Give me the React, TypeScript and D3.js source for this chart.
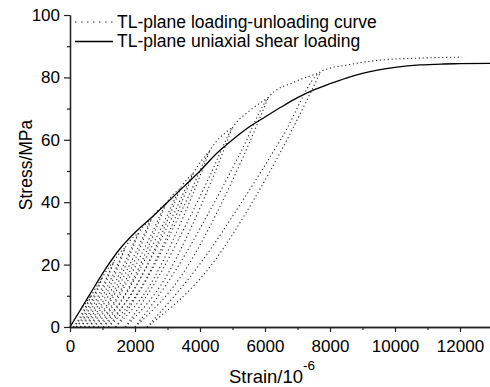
import React, { useEffect, useRef } from "react";
import * as d3 from "d3";

type Pt = [number, number]; // [strain (1e-6), stress (MPa)]

// TL-plane uniaxial shear loading
const shearLoading: Pt[] = [
  [0, 0], [600, 10.3], [1170, 19.8], [1500, 24.6], [2000, 30.3], [2500, 35],
  [3000, 40], [3500, 45], [4000, 50], [4500, 55.5], [5000, 60], [5500, 64],
  [6000, 67.3], [6500, 70.5], [7000, 73.5], [7500, 76], [8000, 78],
  [8500, 79.8], [9000, 81.3], [9500, 82.4], [10000, 83.2], [10770, 84],
  [11500, 84.3], [12000, 84.4], [13000, 84.5],
];

// TL-plane loading-unloading curve: first loading, then reload / unload branches
const firstLoading: Pt[] = [[0, 0], [200, 3.5], [400, 6.5], [650, 10]];

const reloadBranches: Pt[][] = [
  [[100, 0], [269, 2.5], [405, 5], [531, 7.5], [680, 10.5], [1000, 16]],
  [[200, 0], [446, 4], [644, 8], [826, 12], [1030, 16.5], [1350, 21]],
  [[320, 0], [637, 5.25], [892, 10.5], [1126, 15.75], [1380, 21.5], [1700, 25.5]],
  [[450, 0], [835, 6.4], [1144, 12.75], [1429, 19.1], [1730, 26], [2100, 30]],
  [[580, 0], [1048, 7.5], [1424, 15], [1770, 22.5], [2130, 30.5], [2500, 34.5]],
  [[720, 0], [1268, 8.6], [1708, 17.25], [2114, 25.9], [2530, 35], [2950, 39.5]],
  [[870, 0], [1511, 9.9], [2024, 19.75], [2499, 29.6], [2980, 40], [3400, 44.5]],
  [[1020, 0], [1753, 11.1], [2341, 22.25], [2884, 33.4], [3430, 45], [3800, 49.5]],
  [[1180, 0], [1987, 12.4], [2634, 24.75], [3231, 37.1], [3830, 50], [4300, 56.5]],
  [[1400, 0], [2293, 14.1], [3010, 28.25], [3671, 42.4], [4330, 57], [5000, 64]],
  [[1700, 0], [2716, 16], [3532, 32], [4284, 48], [5040, 64.5], [5550, 69.5], [6100, 73.5]],
  [[2000, 0], [3263, 18.4], [4276, 36.75], [5210, 55.1], [6140, 74], [6900, 78.5], [7700, 81.5]],
  [[2370, 0], [4012, 20.4], [5328, 40.75], [6543, 61.1], [7740, 82], [8600, 84.1],
    [9500, 85.5], [10800, 86.2], [12060, 86.5]],
];

const unloadBranches: Pt[][] = [
  [[100, 0], [308, 2.5], [439, 5], [550, 7.5], [650, 10]],
  [[200, 0], [503, 4], [693, 8], [854, 12], [1000, 16]],
  [[320, 0], [710, 5.25], [954, 10.5], [1163, 15.75], [1350, 21]],
  [[450, 0], [924, 6.4], [1220, 12.75], [1473, 19.1], [1700, 25.5]],
  [[580, 0], [1156, 7.5], [1516, 15], [1823, 22.5], [2100, 30]],
  [[720, 0], [1395, 8.6], [1816, 17.25], [2176, 25.9], [2500, 34.5]],
  [[870, 0], [1658, 9.9], [2151, 19.75], [2571, 29.6], [2950, 39.5]],
  [[1020, 0], [1922, 11.1], [2486, 22.25], [2967, 33.4], [3400, 44.5]],
  [[1180, 0], [2173, 12.4], [2794, 24.75], [3323, 37.1], [3800, 49.5]],
  [[1400, 0], [2499, 14.1], [3186, 28.25], [3772, 42.4], [4300, 56.5]],
  [[1700, 0], [2951, 16], [3733, 32], [4399, 48], [5000, 64]],
  [[2000, 0], [3554, 18.4], [4526, 36.75], [5354, 55.1], [6100, 73.5]],
  [[2370, 0], [4390, 20.4], [5653, 40.75], [6730, 61.1], [7700, 81.5]],
];

const xTicks = [0, 2000, 4000, 6000, 8000, 10000, 12000];
const xMinorTicks = [1000, 3000, 5000, 7000, 9000, 11000];
const yTicks = [0, 20, 40, 60, 80, 100];
const yMinorTicks = [10, 30, 50, 70, 90];

const legendLabels = [
  "TL-plane loading-unloading curve",
  "TL-plane uniaxial shear loading",
];

const FONT = "'Liberation Sans', Arial, sans-serif";
const DOTS = "1.2,2.7";

const App: React.FC = () => {
  const svgRef = useRef<SVGSVGElement>(null);
  const width = 490;
  const height = 387;

  useEffect(() => {
    if (!svgRef.current) return;
    d3.select(svgRef.current).selectAll("*").remove();
    const svg = d3.select(svgRef.current);

    const x = d3.scaleLinear().domain([0, 13000]).range([70, 492.5]);
    const y = d3.scaleLinear().domain([0, 100]).range([327, 15]);

    const line = d3
      .line<Pt>()
      .x((d) => x(d[0]))
      .y((d) => y(d[1]))
      .curve(d3.curveMonotoneX);

    // dotted loading-unloading curve
    const dotted = svg.append("g");
    [firstLoading, ...reloadBranches, ...unloadBranches].forEach((b) => {
      dotted
        .append("path")
        .attr("d", line(b))
        .attr("fill", "none")
        .attr("stroke", "#2a2a2a")
        .attr("stroke-width", 1.1)
        .attr("stroke-dasharray", DOTS);
    });

    // solid uniaxial curve
    svg
      .append("path")
      .attr("d", line(shearLoading))
      .attr("fill", "none")
      .attr("stroke", "#000")
      .attr("stroke-width", 1.3);

    // axes
    const styleAxis = (g: d3.Selection<SVGGElement, unknown, null, undefined>) => {
      g.select(".domain").attr("stroke", "#222").attr("stroke-width", 1.3);
      g.selectAll(".tick line").attr("stroke", "#222").attr("stroke-width", 1.2);
      g.selectAll("text")
        .attr("fill", "#000")
        .style("font-family", FONT)
        .style("font-size", "17px");
    };

    const xAxis = svg
      .append("g")
      .attr("transform", `translate(0,${y(0)})`)
      .call(
        d3.axisBottom(x).tickValues(xTicks).tickSize(5).tickSizeOuter(0)
          .tickPadding(8).tickFormat(d3.format("d"))
      );
    styleAxis(xAxis);
    const xMinor = svg
      .append("g")
      .attr("transform", `translate(0,${y(0)})`)
      .call(d3.axisBottom(x).tickValues(xMinorTicks).tickSize(3).tickSizeOuter(0).tickFormat(() => ""));
    styleAxis(xMinor);

    const yAxis = svg
      .append("g")
      .attr("transform", `translate(${x(0)},0)`)
      .call(
        d3.axisLeft(y).tickValues(yTicks).tickSize(6).tickSizeOuter(0)
          .tickPadding(4).tickFormat(d3.format("d"))
      );
    styleAxis(yAxis);
    const yMinor = svg
      .append("g")
      .attr("transform", `translate(${x(0)},0)`)
      .call(d3.axisLeft(y).tickValues(yMinorTicks).tickSize(3).tickSizeOuter(0).tickFormat(() => ""));
    styleAxis(yMinor);

    // axis titles
    const xTitle = svg
      .append("text")
      .attr("x", 229)
      .attr("y", 383)
      .style("font-family", FONT)
      .style("font-size", "18.5px");
    xTitle.append("tspan").text("Strain/10");
    xTitle
      .append("tspan")
      .attr("dy", -13)
      .style("font-size", "13.5px")
      .text("-6");

    svg
      .append("text")
      .attr("transform", "rotate(-90)")
      .attr("x", -165)
      .attr("y", 32)
      .attr("text-anchor", "middle")
      .style("font-family", FONT)
      .style("font-size", "17.5px")
      .text("Stress/MPa");

    // legend
    const legend = svg.append("g");
    legendLabels.forEach((label, i) => {
      const ly = 22 + i * 19.5;
      legend
        .append("line")
        .attr("x1", 75)
        .attr("x2", 113)
        .attr("y1", ly)
        .attr("y2", ly)
        .attr("stroke", i === 0 ? "#2a2a2a" : "#000")
        .attr("stroke-width", i === 0 ? 1.2 : 1.3)
        .attr("stroke-dasharray", i === 0 ? "1.5,4.5" : null);
      legend
        .append("text")
        .attr("x", 117)
        .attr("y", ly + 5.5)
        .style("font-family", FONT)
        .style("font-size", "17.5px")
        .text(label);
    });
  }, []);

  return (
    <svg
      ref={svgRef}
      width={width}
      height={height}
      style={{ position: "absolute", left: 0, top: 0, background: "#fff" }}
    />
  );
};

export default App;
